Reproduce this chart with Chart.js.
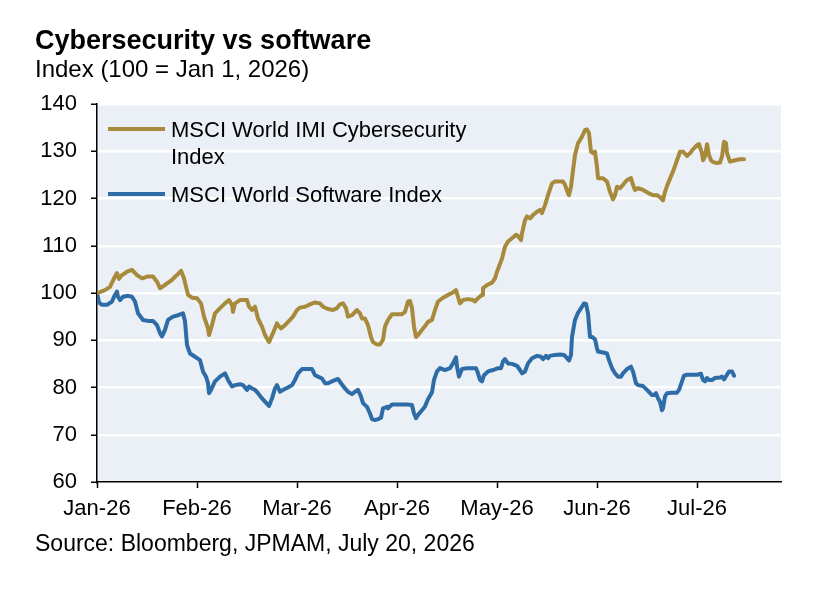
<!DOCTYPE html>
<html>
<head>
<meta charset="utf-8">
<script src="https://cdn.jsdelivr.net/npm/chart.js@4.4.1/dist/chart.umd.min.js"></script>
<style>
  html, body { margin: 0; padding: 0; background: #fff; }
  #wrap { width: 824px; height: 590px; }
</style>
</head>
<body>
<div id="wrap"><canvas id="myChart" width="824" height="590"></canvas></div>
<script>
// x = months since Jan 1, 2026 (axis is evenly spaced by month)
const monthLabels = ['Jan-26', 'Feb-26', 'Mar-26', 'Apr-26', 'May-26', 'Jun-26', 'Jul-26'];
const yTicks = [60, 70, 80, 90, 100, 110, 120, 130, 140];

const cyberX = [0, 0.08, 0.13, 0.18, 0.20, 0.22, 0.25, 0.30, 0.35, 0.40,
  0.45, 0.51, 0.56, 0.60, 0.63, 0.68, 0.75, 0.80, 0.84, 0.87,
  0.91, 0.95, 1.00, 1.04, 1.07, 1.11, 1.12, 1.15, 1.18, 1.23,
  1.28, 1.32, 1.35, 1.36, 1.38, 1.43, 1.50, 1.52, 1.55, 1.58,
  1.61, 1.65, 1.68, 1.72, 1.76, 1.80, 1.81, 1.84, 1.88, 1.93,
  1.96, 2.00, 2.03, 2.08, 2.13, 2.18, 2.23, 2.26, 2.31, 2.36,
  2.40, 2.43, 2.46, 2.49, 2.51, 2.55, 2.60, 2.63, 2.65, 2.68,
  2.71, 2.74, 2.76, 2.80, 2.83, 2.86, 2.88, 2.91, 2.95, 3.00,
  3.05, 3.08, 3.11, 3.13, 3.15, 3.17, 3.19, 3.21, 3.25, 3.28,
  3.31, 3.35, 3.38, 3.41, 3.46, 3.51, 3.56, 3.59, 3.61, 3.63,
  3.66, 3.71, 3.76, 3.78, 3.81, 3.85, 3.86, 3.90, 3.95, 3.98,
  4.00, 4.02, 4.05, 4.08, 4.11, 4.15, 4.19, 4.21, 4.24, 4.25,
  4.28, 4.30, 4.33, 4.36, 4.40, 4.43, 4.45, 4.48, 4.51, 4.55,
  4.58, 4.63, 4.66, 4.68, 4.71, 4.72, 4.74, 4.76, 4.78, 4.81,
  4.85, 4.88, 4.90, 4.92, 4.94, 4.96, 4.98, 5.00, 5.01, 5.06,
  5.10, 5.13, 5.16, 5.18, 5.20, 5.23, 5.26, 5.30, 5.34, 5.36,
  5.38, 5.41, 5.46, 5.51, 5.56, 5.60, 5.63, 5.66, 5.68, 5.71,
  5.76, 5.80, 5.83, 5.86, 5.90, 5.93, 5.96, 6.00, 6.02, 6.05,
  6.06, 6.08, 6.10, 6.12, 6.14, 6.16, 6.20, 6.23, 6.25, 6.27,
  6.29, 6.30, 6.33, 6.38, 6.43, 6.47];
const cyberY = [100, 100.6, 101.3, 103.5, 104.2, 103.0, 103.8, 104.5, 104.9, 103.8,
  103.1, 103.5, 103.5, 102.4, 101.0, 101.7, 102.8, 103.8, 104.7, 103.1,
  99.6, 99.0, 98.9, 97.8, 95.0, 92.5, 91.1, 93.2, 95.7, 96.8,
  97.8, 98.5, 97.5, 96.0, 97.8, 98.5, 98.5, 97.1, 96.4, 97.1,
  94.6, 92.9, 91.1, 89.6, 91.5, 93.6, 93.2, 92.5, 93.2, 94.3,
  95.0, 96.4, 96.9, 97.1, 97.6, 98.0, 97.8, 97.1, 96.6, 96.4,
  96.8, 97.6, 97.8, 96.8, 95.0, 95.3, 96.4, 95.7, 94.6, 94.6,
  93.2, 90.7, 89.6, 89.1, 89.1, 90.1, 92.9, 94.3, 95.5, 95.5,
  95.5, 96.0, 98.2, 98.3, 96.8, 92.9, 90.7, 91.1, 92.2, 93.0,
  93.9, 94.3, 96.4, 98.2, 99.0, 99.6, 100.1, 100.6, 99.2, 97.8,
  98.5, 98.7, 98.5, 98.2, 98.9, 99.6, 101.0, 101.7, 102.2, 103.1,
  104.5, 105.6, 107.3, 109.8, 110.9, 111.6, 112.3, 112.1, 111.2, 112.6,
  115.4, 116.2, 115.8, 116.5, 117.2, 117.6, 116.9, 118.6, 120.7, 123.2,
  123.6, 123.6, 123.6, 122.9, 121.1, 120.7, 122.5, 126.0, 129.2, 131.7,
  133.1, 134.5, 134.6, 133.8, 129.9, 129.6, 129.9, 126.7, 124.3, 124.3,
  123.6, 121.4, 119.8, 120.7, 122.5, 122.2, 122.9, 123.9, 124.3, 122.9,
  121.8, 122.2, 121.8, 121.2, 120.7, 120.7, 120.3, 119.6, 121.4, 123.2,
  125.7, 128.1, 129.9, 129.9, 129.0, 129.6, 130.4, 131.3, 131.5, 129.6,
  128.1, 128.9, 131.5, 129.2, 128.1, 127.7, 127.5, 127.6, 128.9, 132.0,
  131.7, 129.6, 127.8, 128.1, 128.3, 128.3];

const softX = [0, 0.02, 0.05, 0.10, 0.15, 0.17, 0.20, 0.21, 0.23, 0.26,
  0.31, 0.35, 0.38, 0.41, 0.46, 0.51, 0.56, 0.60, 0.63, 0.65,
  0.68, 0.71, 0.76, 0.81, 0.86, 0.88, 0.90, 0.93, 0.98, 1.03,
  1.06, 1.09, 1.11, 1.12, 1.14, 1.18, 1.23, 1.28, 1.31, 1.35,
  1.38, 1.43, 1.46, 1.50, 1.52, 1.55, 1.58, 1.61, 1.65, 1.68,
  1.72, 1.75, 1.78, 1.80, 1.83, 1.86, 1.91, 1.95, 1.98, 2.01,
  2.05, 2.10, 2.15, 2.18, 2.21, 2.25, 2.28, 2.31, 2.36, 2.41,
  2.44, 2.48, 2.51, 2.55, 2.58, 2.61, 2.64, 2.66, 2.70, 2.73,
  2.75, 2.78, 2.81, 2.84, 2.86, 2.90, 2.91, 2.95, 3.00, 3.05,
  3.10, 3.15, 3.17, 3.19, 3.21, 3.25, 3.28, 3.31, 3.35, 3.37,
  3.40, 3.43, 3.48, 3.53, 3.56, 3.59, 3.60, 3.62, 3.65, 3.70,
  3.75, 3.79, 3.81, 3.83, 3.85, 3.87, 3.91, 3.96, 4.01, 4.04,
  4.06, 4.08, 4.11, 4.15, 4.20, 4.23, 4.25, 4.28, 4.31, 4.35,
  4.40, 4.44, 4.46, 4.49, 4.51, 4.53, 4.58, 4.63, 4.67, 4.70,
  4.72, 4.74, 4.75, 4.78, 4.81, 4.85, 4.87, 4.89, 4.91, 4.93,
  4.95, 4.98, 5.00, 5.01, 5.06, 5.10, 5.12, 5.15, 5.18, 5.21,
  5.24, 5.26, 5.30, 5.34, 5.36, 5.39, 5.41, 5.46, 5.50, 5.55,
  5.57, 5.59, 5.61, 5.63, 5.65, 5.66, 5.68, 5.70, 5.75, 5.80,
  5.82, 5.85, 5.87, 5.90, 5.95, 6.00, 6.04, 6.06, 6.08, 6.10,
  6.12, 6.15, 6.18, 6.23, 6.25, 6.27, 6.30, 6.32, 6.35, 6.37];
const softY = [100, 98.0, 97.5, 97.5, 98.2, 99.2, 100.3, 99.2, 98.5, 99.2,
  99.4, 99.2, 98.2, 95.7, 94.3, 94.1, 94.1, 93.2, 91.5, 90.8,
  92.2, 94.3, 95.0, 95.3, 95.7, 94.0, 89.0, 87.2, 86.5, 85.8,
  83.4, 82.3, 80.9, 78.8, 79.5, 81.3, 82.3, 83.0, 81.6, 80.2,
  80.5, 80.7, 80.5, 79.5, 80.2, 79.8, 79.5, 78.8, 77.7, 77.0,
  76.1, 77.7, 79.8, 80.5, 79.1, 79.5, 80.0, 80.5, 81.6, 83.0,
  83.9, 83.9, 83.9, 82.6, 82.3, 81.9, 80.9, 80.9, 81.4, 81.8,
  80.9, 79.8, 79.1, 78.6, 79.1, 79.5, 78.1, 76.7, 75.9, 74.5,
  73.3, 73.1, 73.3, 73.6, 75.6, 75.9, 75.6, 76.4, 76.4, 76.4,
  76.4, 76.3, 74.5, 73.5, 74.2, 75.2, 76.0, 77.5, 79.0, 81.6,
  83.4, 84.1, 83.7, 84.1, 85.1, 86.4, 84.4, 82.3, 83.9, 84.1,
  84.1, 84.1, 83.0, 81.6, 81.3, 82.6, 83.4, 83.7, 84.1, 84.1,
  85.5, 86.0, 85.1, 85.0, 84.6, 83.7, 83.0, 83.4, 85.1, 86.2,
  86.7, 86.5, 86.0, 86.7, 86.2, 86.7, 86.9, 87.0, 86.9, 86.2,
  85.7, 86.9, 90.7, 94.3, 95.8, 97.1, 97.8, 97.7, 95.7, 90.7,
  90.7, 90.2, 88.3, 87.6, 87.4, 87.2, 85.8, 84.1, 83.0, 82.3,
  82.3, 83.0, 83.9, 84.4, 83.4, 80.9, 80.5, 80.3, 79.5, 78.4,
  78.4, 78.8, 77.7, 77.0, 75.2, 75.6, 78.1, 78.8, 78.9, 78.9,
  79.5, 81.3, 82.5, 82.7, 82.7, 82.7, 82.9, 81.6, 81.3, 82.0,
  81.6, 81.6, 82.0, 82.1, 82.3, 81.7, 82.7, 83.4, 83.4, 82.5];

const seriesNames = [['MSCI World IMI Cybersecurity', 'Index'], ['MSCI World Software Index']];
const seriesColors = ['#A78A3B', '#2D6CA6'];
const titleText = 'Cybersecurity vs software';
const subtitleText = 'Index (100 = Jan 1, 2026)';
const sourceText = 'Source: Bloomberg, JPMAM, July 20, 2026';

const FONT = '"Liberation Sans", Arial, Helvetica, sans-serif';
Chart.defaults.font.family = FONT;
Chart.defaults.color = '#000';

const toPoints = (xs, ys) => xs.map((x, i) => ({ x: x, y: ys[i] }));

// light blue plot background
const plotBg = {
    id: 'plotBg',
    beforeDraw(chart) {
        const { ctx, chartArea: a } = chart;
        ctx.save();
        ctx.fillStyle = '#EAF0F5';
        ctx.fillRect(a.left, a.top, a.right - a.left, a.bottom - a.top);
        ctx.restore();
    }
};

// legend inside the plot, top left
const insideLegend = {
    id: 'insideLegend',
    afterDatasetsDraw(chart) {
        const ctx = chart.ctx;
        const rows = [129, 194];
        ctx.save();
        ctx.font = '22px ' + FONT;
        ctx.fillStyle = '#000';
        ctx.textBaseline = 'alphabetic';
        seriesNames.forEach((lines, i) => {
            ctx.strokeStyle = seriesColors[i];
            ctx.lineWidth = 4;
            ctx.beginPath();
            ctx.moveTo(108, rows[i]);
            ctx.lineTo(165, rows[i]);
            ctx.stroke();
            lines.forEach((t, j) => ctx.fillText(t, 171, rows[i] + 8 + j * 27));
        });
        ctx.restore();
    }
};

// title, subtitle and source note
const headings = {
    id: 'headings',
    afterDraw(chart) {
        const ctx = chart.ctx;
        ctx.save();
        ctx.fillStyle = '#000';
        ctx.textBaseline = 'alphabetic';
        ctx.font = 'bold 27px ' + FONT;
        ctx.fillText(titleText, 35, 49);
        ctx.font = '24px ' + FONT;
        ctx.fillText(subtitleText, 35, 77);
        ctx.font = '23px ' + FONT;
        ctx.fillText(sourceText, 35, 551);
        ctx.restore();
    }
};

new Chart(document.getElementById('myChart'), {
    type: 'line',
    data: {
        datasets: [{
            label: seriesNames[0].join(' '),
            data: toPoints(cyberX, cyberY),
            borderColor: seriesColors[0],
            borderWidth: 4,
            borderJoinStyle: 'round',
            borderCapStyle: 'round',
            pointRadius: 0,
            tension: 0
        }, {
            label: seriesNames[1].join(' '),
            data: toPoints(softX, softY),
            borderColor: seriesColors[1],
            borderWidth: 4,
            borderJoinStyle: 'round',
            borderCapStyle: 'round',
            pointRadius: 0,
            tension: 0
        }]
    },
    options: {
        responsive: false,
        animation: false,
        devicePixelRatio: 1,
        layout: { padding: { left: 0, right: 43, top: 104, bottom: 68 } },
        plugins: {
            legend: { display: false },
            tooltip: { enabled: false }
        },
        scales: {
            x: {
                type: 'linear',
                min: 0,
                max: 6.84,
                afterFit: s => { s.height = 40; },
                afterBuildTicks: s => { s.ticks = monthLabels.map((m, i) => ({ value: i })); },
                ticks: {
                    callback: v => monthLabels[v],
                    font: { size: 22 },
                    color: '#000',
                    padding: 8,
                    maxRotation: 0,
                    autoSkip: false
                },
                grid: {
                    drawOnChartArea: false,
                    tickColor: '#000',
                    tickLength: 6,
                    tickWidth: 1.5
                },
                border: { color: '#000', width: 1.5 }
            },
            y: {
                min: 60,
                max: 140,
                afterFit: s => { s.width = 97; },
                afterBuildTicks: s => { s.ticks = yTicks.map(v => ({ value: v })); },
                ticks: {
                    font: { size: 22 },
                    color: '#000',
                    padding: 14
                },
                grid: {
                    color: c => (c.tick && c.tick.value === 60) ? 'rgba(0,0,0,0)' : '#FFFFFF',
                    lineWidth: 2.5,
                    tickColor: '#000',
                    tickLength: 6,
                    tickWidth: 1.5
                },
                border: { color: '#000', width: 1.5 }
            }
        }
    },
    plugins: [plotBg, insideLegend, headings]
});
</script>
</body>
</html>
